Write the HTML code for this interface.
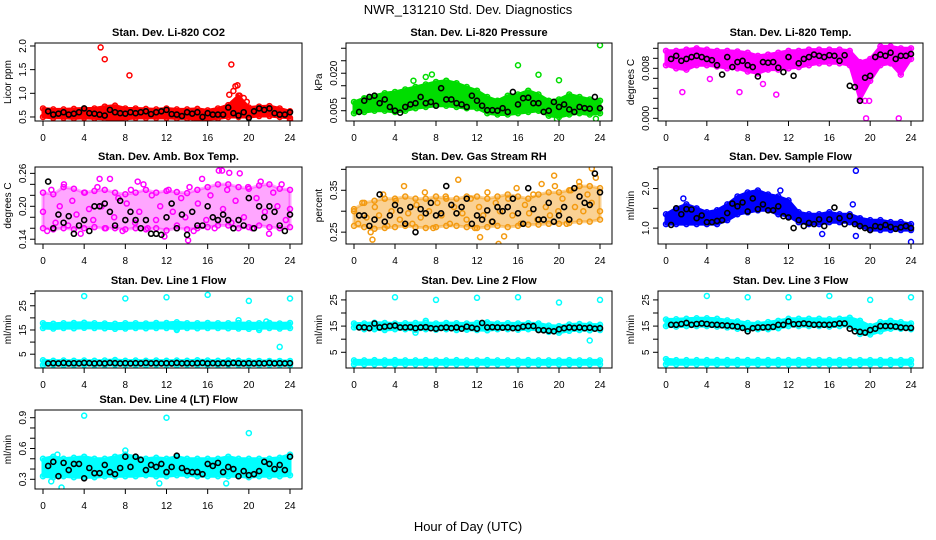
<!DOCTYPE html>
<html><head><meta charset="utf-8">
<style>
html,body{margin:0;padding:0;background:#fff;}
svg{display:block;font-family:"Liberation Sans",sans-serif;}
</style></head>
<body>
<svg id="chart" width="936" height="540" viewBox="0 0 936 540">
<text x="468" y="14" text-anchor="middle" font-size="13">NWR_131210  Std. Dev. Diagnostics</text>
<text x="468" y="531" text-anchor="middle" font-size="13">Hour of Day (UTC)</text>
</svg>
<script>
const hours=[0,1,2,3,4,5,6,7,8,9,10,11,12,13,14,15,16,17,18,19,20,21,22,23,24];
const xTicks=[0,4,8,12,16,20,24];
const meanX=[0.5,1,1.5,2,2.5,3,3.5,4,4.5,5,5.5,6,6.5,7,7.5,8,8.5,9,9.5,10,10.5,11,11.5,12,12.5,13,13.5,14,14.5,15,15.5,16,16.5,17,17.5,18,18.5,19,19.5,20,20.5,21,21.5,22,22.5,23,23.5,24];

// Panel 1 CO2
const co2Lo=[0.5,0.48,0.48,0.47,0.48,0.47,0.46,0.45,0.46,0.48,0.48,0.48,0.48,0.47,0.47,0.45,0.45,0.47,0.5,0.5,0.5,0.52,0.52,0.5,0.48];
const co2Hi=[0.68,0.66,0.66,0.67,0.68,0.68,0.72,0.74,0.68,0.68,0.67,0.66,0.68,0.66,0.66,0.67,0.64,0.68,0.75,0.95,0.7,0.72,0.73,0.68,0.62];
const co2OutX=[5.6,6.0,8.4,18.3,18.7,18.9,18.5,19.1,19.5,19.8,18.1,16.0,14.7,24];
const co2OutY=[1.97,1.72,1.38,1.61,1.15,1.17,1.05,0.95,0.9,0.82,0.97,0.37,0.4,0.44];
const co2Mean=[0.62,0.55,0.57,0.6,0.55,0.57,0.6,0.68,0.58,0.57,0.55,0.53,0.65,0.6,0.58,0.57,0.6,0.58,0.6,0.62,0.56,0.6,0.62,0.65,0.56,0.55,0.52,0.6,0.57,0.6,0.5,0.58,0.55,0.55,0.55,0.7,0.58,0.53,0.6,0.48,0.62,0.68,0.65,0.68,0.58,0.55,0.55,0.6];
// Panel 2 Pressure
const prLo=[0.004,0.0045,0.005,0.005,0.0045,0.005,0.006,0.0065,0.007,0.007,0.0065,0.006,0.006,0.004,0.0035,0.0035,0.004,0.0045,0.005,0.003,0.0025,0.0035,0.004,0.0035,0.004];
const prHi=[0.0085,0.01,0.011,0.012,0.0125,0.0135,0.0145,0.0155,0.0165,0.017,0.016,0.0145,0.013,0.0105,0.009,0.011,0.0115,0.013,0.0115,0.009,0.0095,0.0115,0.0105,0.0095,0.009];
const prOutX=[16,18,20,24,7.6,7,5.8,23.6,19.8,1];
const prOutY=[0.0232,0.0194,0.0172,0.0312,0.0195,0.0185,0.017,0.0018,0.0017,0.0095];
const prMean=[0.0045,0.009,0.0105,0.011,0.008,0.0095,0.0065,0.005,0.0042,0.0065,0.0075,0.008,0.0105,0.008,0.0085,0.007,0.014,0.0095,0.0095,0.008,0.0075,0.0065,0.011,0.009,0.007,0.0052,0.0052,0.005,0.006,0.0045,0.0125,0.0075,0.01,0.0102,0.008,0.008,0.0045,0.005,0.0085,0.0065,0.0075,0.0055,0.0045,0.0065,0.006,0.0058,0.0105,0.006];
// Panel 3 Li-820 Temp
const ltLo=[0.0085,0.008,0.0078,0.0085,0.0085,0.0083,0.008,0.008,0.0075,0.0072,0.0078,0.0078,0.008,0.0082,0.0085,0.0088,0.0088,0.0088,0.0085,0.003,0.006,0.0085,0.0088,0.007,0.0095];
const ltHi=[0.0108,0.0108,0.011,0.0112,0.011,0.0108,0.0108,0.0107,0.0105,0.01,0.0102,0.0105,0.0108,0.0108,0.011,0.011,0.011,0.011,0.0108,0.009,0.0095,0.0115,0.0115,0.0112,0.0112];
const ltOutX=[1.6,7.2,10.8,19.5,19.9,19.6,22.8,9.5,4.3];
const ltOutY=[0.0042,0.0042,0.0038,0.0028,0.0028,0,0,0.0055,0.0063];
const ltMean=[0.0095,0.01,0.0092,0.0095,0.0098,0.01,0.0098,0.0095,0.0093,0.0085,0.007,0.0098,0.0082,0.009,0.0092,0.0085,0.0082,0.0067,0.009,0.0089,0.009,0.0081,0.0074,0.0098,0.0068,0.0088,0.0095,0.0098,0.0102,0.01,0.0098,0.0101,0.01,0.0092,0.0101,0.0052,0.005,0.0028,0.0065,0.0068,0.0098,0.0102,0.01,0.0105,0.0095,0.01,0.01,0.0103];
// Panel 4 Amb box temp
const abLo=[0.16,0.158,0.16,0.158,0.16,0.162,0.16,0.16,0.158,0.16,0.158,0.16,0.156,0.16,0.158,0.16,0.162,0.165,0.165,0.16,0.162,0.165,0.162,0.16,0.162];
const abHi=[0.225,0.222,0.235,0.232,0.225,0.228,0.23,0.225,0.222,0.225,0.23,0.225,0.228,0.226,0.224,0.23,0.235,0.24,0.24,0.235,0.232,0.238,0.24,0.232,0.23];
const abPts=[0.19,0.155,0.23,0.17,0.2,0.24,0.165,0.21,0.185,0.15,0.225,0.195,0.175,0.235,0.2,0.16,0.25,0.18,0.215,0.155,0.205,0.23,0.17,0.19,0.24,0.16,0.22,0.175,0.2,0.145,0.23,0.19,0.165,0.215,0.18,0.235,0.155,0.205,0.25,0.175,0.22,0.16,0.265,0.195,0.23,0.17,0.21,0.26,0.18,0.235,0.16,0.215,0.245,0.19,0.15,0.225,0.2,0.24,0.175,0.195];
const abOutX=[14.1,17.4,18.1,5.5,9.2];
const abOutY=[0.138,0.265,0.261,0.25,0.245];
const abMean=[0.245,0.16,0.185,0.17,0.182,0.15,0.165,0.175,0.155,0.2,0.2,0.205,0.19,0.165,0.21,0.175,0.19,0.175,0.16,0.175,0.15,0.15,0.148,0.18,0.205,0.16,0.185,0.148,0.19,0.165,0.165,0.2,0.18,0.175,0.185,0.175,0.16,0.175,0.165,0.215,0.16,0.2,0.18,0.2,0.19,0.165,0.155,0.185];
// Panel 5 Gas stream RH
const rhLo=[0.265,0.262,0.258,0.26,0.262,0.265,0.262,0.26,0.262,0.265,0.265,0.262,0.26,0.262,0.265,0.262,0.265,0.268,0.268,0.27,0.27,0.272,0.275,0.275,0.28];
const rhHi=[0.305,0.32,0.325,0.33,0.33,0.335,0.33,0.33,0.335,0.33,0.33,0.335,0.335,0.33,0.335,0.34,0.335,0.33,0.34,0.345,0.345,0.35,0.36,0.36,0.355];
const rhPts=[0.3,0.27,0.32,0.285,0.25,0.31,0.29,0.34,0.265,0.3,0.325,0.28,0.36,0.295,0.27,0.315,0.285,0.345,0.3,0.26,0.32,0.29,0.335,0.27,0.31,0.375,0.295,0.28,0.33,0.26,0.31,0.29,0.345,0.275,0.32,0.3,0.24,0.33,0.29,0.355,0.27,0.315,0.295,0.34,0.28,0.365,0.31,0.29,0.385,0.3,0.33,0.27,0.35,0.31,0.37,0.3,0.34,0.32,0.38,0.3];
const rhOutX=[1.8,14.1,12.3,23.2,19.6];
const rhOutY=[0.232,0.222,0.238,0.402,0.36];
const rhMean=[0.29,0.29,0.265,0.28,0.34,0.275,0.29,0.315,0.302,0.27,0.31,0.25,0.305,0.295,0.32,0.29,0.295,0.36,0.315,0.295,0.31,0.33,0.27,0.29,0.28,0.302,0.275,0.31,0.3,0.31,0.33,0.295,0.27,0.355,0.305,0.28,0.28,0.32,0.275,0.29,0.31,0.28,0.355,0.335,0.32,0.315,0.39,0.345];
// Panel 6 Sample flow
const sfLo=[1.1,1.1,1.1,1.1,1.1,1.1,1.2,1.35,1.4,1.45,1.45,1.35,1.3,1.15,1.1,1.1,1.15,1.15,1.15,1.05,0.95,0.95,0.95,0.95,0.95];
const sfHi=[1.35,1.5,1.6,1.5,1.4,1.45,1.6,1.8,1.9,1.95,1.85,1.8,1.7,1.4,1.35,1.35,1.4,1.35,1.35,1.25,1.2,1.2,1.15,1.15,1.1];
const sfOutX=[18.6,18.6,24,15.3,18.3,1.7,11.2];
const sfOutY=[2.45,0.8,0.65,0.85,1.6,1.75,1.95];
const sfMean=[1.08,1.5,1.35,1.48,1.47,1.25,1.32,1.15,1.15,1.18,1.2,1.38,1.62,1.55,1.65,1.42,1.75,1.48,1.6,1.45,1.45,1.55,1.3,1.27,1.0,1.2,1.05,1.13,1.1,1.22,1.05,1.22,1.52,1.25,1.1,1.3,1.1,1.05,1.0,0.95,1.05,1.03,1.08,1.03,0.98,1.02,1.05,1.0];
// Panel 7 Line 1
const l1Lo=[15.8,15.6,15.8,15.7,15.9,15.8,15.7,15.5,15.6,15.8,15.7,15.8,15.8,15.6,15.8,15.7,15.8,15.8,15.7,15.6,15.5,15.7,15.8,15.6,15.8];
const l1Hi=[17.8,17.6,17.8,17.9,18.0,17.8,17.7,17.6,17.8,17.8,17.7,17.9,17.9,18.2,17.8,17.8,17.9,17.8,17.8,17.9,17.8,17.8,17.9,17.7,17.9];
const l1Lo2=[0.5,0.6,0.5,0.5,0.6,0.5,0.5,0.6,0.5,0.5,0.5,0.6,0.5,0.5,0.6,0.5,0.5,0.5,0.6,0.5,0.5,0.5,0.6,0.5,0.5];
const l1Hi2=[2.5,2.3,2.4,2.3,2.4,2.3,2.4,2.6,2.3,2.4,2.3,2.4,2.3,2.4,2.3,2.5,2.4,2.3,2.4,2.3,2.2,2.2,2.2,2.2,2.2];
const l1OutX=[4,8,12,16,20,24,19,21,13,23,21.7];
const l1OutY=[29,28,28.5,29.5,27,28,19,15,15,8,18.5];
const l1Mean=[1.2,1.3,1.2,1.4,1.2,1.3,1.2,1.4,1.3,1.2,1.3,1.2,1.4,1.3,1.2,1.3,1.2,1.3,1.2,1.4,1.2,1.3,1.2,1.3,1.2,1.4,1.2,1.3,1.2,1.3,1.4,1.2,1.3,1.2,1.3,1.2,1.4,1.3,1.2,1.3,1.2,1.3,1.2,1.4,1.2,1.3,1.2,1.3];
// Panel 8 Line 2
const l2Lo=[14.5,13.8,13.8,13.5,13.8,13.8,13.5,13.8,13.6,13.8,13.5,13.6,13.5,13.4,13.8,13.8,13.6,13.8,13.6,12.8,12.5,13.2,13.5,13.4,13.5];
const l2Hi=[16.0,16.0,16.3,16.2,16.0,16.1,16.2,16.3,16.0,16.2,16.1,16.0,16.2,16.4,16.0,16.1,16.0,16.1,16.0,15.2,15.0,15.6,15.8,15.6,15.5];
const l2Lo2=[0.4,0.4,0.4,0.4,0.4,0.4,0.4,0.4,0.4,0.4,0.4,0.4,0.4,0.4,0.4,0.4,0.4,0.4,0.4,0.4,0.4,0.4,0.4,0.4,0.4];
const l2Hi2=[1.9,1.9,2.0,1.9,2.0,1.9,1.9,2.0,1.9,1.9,2.0,1.9,1.9,2.0,1.9,1.9,1.9,2.0,1.9,1.9,1.9,2.0,1.9,1.9,1.9];
const l2OutX=[4,8,12,16,20,24,23,6,7];
const l2OutY=[26,25,25.8,26,24,25,9.5,12.5,17];
const l2Mean=[14.5,14.5,14.2,16,14.5,14.8,15,15.2,14.5,14.5,14.6,14.2,14.5,14.6,14.2,14,14.3,14.5,14.2,14.5,14,14.8,14.4,14,16.2,14.5,14.6,14.5,14.4,14.5,14.2,14.3,14.8,15,15,13.5,13.4,13.2,13,13.8,14.2,14.5,14.3,14.5,14.2,14.4,14,14.2];
// Panel 9 Line 3
const l3Lo=[15.0,14.8,15.0,15.0,15.0,14.8,14.5,14.0,13.8,13.8,13.8,14.2,15.0,15.0,15.0,15.0,14.8,15.0,15.2,12.0,11.8,13.0,14.0,14.0,13.8];
const l3Hi=[17.5,17.6,17.8,18.0,18.0,17.8,17.2,16.8,16.2,16.0,16.5,17.0,17.8,17.8,17.8,17.8,17.6,17.8,18.2,17.0,15.0,16.5,17.0,16.5,16.0];
const l3Lo2=[0.4,0.4,0.4,0.4,0.4,0.4,0.4,0.4,0.4,0.4,0.4,0.4,0.4,0.4,0.4,0.4,0.4,0.4,0.4,0.4,0.4,0.4,0.4,0.4,0.4];
const l3Hi2=[2.4,2.0,2.0,2.0,2.0,2.0,2.0,2.0,2.0,2.0,2.0,2.0,2.0,2.0,2.0,2.0,2.0,2.0,2.0,2.0,2.0,2.0,2.0,2.0,2.0];
const l3OutX=[4,8,12,16,20,24,19];
const l3OutY=[26.5,26,26,26.5,25,26,17];
const l3Mean=[15.5,15.5,15.8,16.2,15.5,15.8,16,15.8,15.5,15.5,15.3,15.2,15,14.8,14.3,13,14.2,14.5,14.5,14.6,14.7,15.5,15.5,16.8,15.7,15.8,16,15.8,15.5,15.6,15.5,15.5,15.7,16,16,14,13,12.8,12.5,13.5,14,15,15,15,14.8,14.5,14.3,14.3];
// Panel 10 Line 4
const l4Lo=[0.33,0.32,0.33,0.32,0.32,0.32,0.33,0.33,0.33,0.33,0.34,0.33,0.33,0.34,0.34,0.33,0.33,0.33,0.33,0.33,0.32,0.33,0.33,0.33,0.34];
const l4Hi=[0.5,0.52,0.5,0.51,0.52,0.5,0.5,0.52,0.54,0.52,0.5,0.51,0.5,0.52,0.5,0.5,0.5,0.5,0.52,0.5,0.5,0.5,0.5,0.51,0.54];
const l4OutX=[4,12,20,1.8,11.3,17.8,0.8,8,1.4];
const l4OutY=[0.92,0.9,0.75,0.22,0.26,0.26,0.28,0.58,0.54];
const l4Mean=[0.43,0.47,0.33,0.46,0.39,0.45,0.45,0.31,0.41,0.36,0.36,0.44,0.37,0.35,0.41,0.52,0.42,0.52,0.49,0.39,0.44,0.42,0.45,0.37,0.42,0.53,0.41,0.38,0.37,0.37,0.35,0.45,0.43,0.46,0.37,0.42,0.4,0.33,0.38,0.34,0.35,0.38,0.47,0.45,0.4,0.44,0.39,0.52];

const panels=[
 {title:"Stan. Dev. Li-820 CO2",ylab:"Licor ppm",col:0,row:0,dom:[0.415,2.063],ticks:[0.5,1.0,1.5,2.0],labels:["0.5","1.0","1.5","2.0"],color:"#ff0000",bands:[[co2Lo,co2Hi]],ox:co2OutX,oy:co2OutY,mean:co2Mean},
 {title:"Stan. Dev. Li-820 Pressure",ylab:"kPa",col:1,row:0,dom:[0.00088,0.0321],ticks:[0.005,0.010,0.015,0.020,0.025,0.030],labels:["0.005","","","0.020","",""],color:"#00dd00",bands:[[prLo,prHi]],ox:prOutX,oy:prOutY,mean:prMean},
 {title:"Stan. Dev. Li-820 Temp.",ylab:"degrees C",col:2,row:0,dom:[-0.00043,0.01205],ticks:[0,0.0016,0.0032,0.0048,0.0064,0.008,0.0096,0.0112],labels:["0.000","","","","","0.008","",""],color:"#ff00ff",bands:[[ltLo,ltHi]],ox:ltOutX,oy:ltOutY,mean:ltMean},
 {title:"Stan. Dev. Amb. Box Temp.",ylab:"degrees C",col:0,row:1,dom:[0.1313,0.2716],ticks:[0.14,0.16,0.18,0.20,0.22,0.24,0.26],labels:["0.14","","","0.20","","","0.26"],color:"#ff00ff",bands:[[abLo,abHi]],op:0.35,pts:abPts,ox:abOutX,oy:abOutY,mean:abMean},
 {title:"Stan. Dev. Gas Stream RH",ylab:"percent",col:1,row:1,dom:[0.2217,0.4056],ticks:[0.25,0.30,0.35,0.40],labels:["0.25","","0.35",""],color:"#f39a10",bands:[[rhLo,rhHi]],op:0.45,pts:rhPts,ox:rhOutX,oy:rhOutY,mean:rhMean},
 {title:"Stan. Dev. Sample Flow",ylab:"ml/min",col:2,row:1,dom:[0.597,2.546],ticks:[1.0,1.5,2.0,2.5],labels:["1.0","","2.0",""],color:"#0000ff",bands:[[sfLo,sfHi]],ox:sfOutX,oy:sfOutY,mean:sfMean},
 {title:"Stan. Dev. Line 1 Flow",ylab:"ml/min",col:0,row:2,dom:[-0.7,31.1],ticks:[5,10,15,20,25,30],labels:["5","","15","","25",""],color:"#00ffff",bands:[[l1Lo,l1Hi],[l1Lo2,l1Hi2]],ox:l1OutX,oy:l1OutY,mean:l1Mean},
 {title:"Stan. Dev. Line 2 Flow",ylab:"ml/min",col:1,row:2,dom:[-1.0,28.4],ticks:[5,10,15,20,25],labels:["5","","15","","25"],color:"#00ffff",bands:[[l2Lo,l2Hi],[l2Lo2,l2Hi2]],ox:l2OutX,oy:l2OutY,mean:l2Mean},
 {title:"Stan. Dev. Line 3 Flow",ylab:"ml/min",col:2,row:2,dom:[-1.0,28.4],ticks:[5,10,15,20,25],labels:["5","","15","","25"],color:"#00ffff",bands:[[l3Lo,l3Hi],[l3Lo2,l3Hi2]],ox:l3OutX,oy:l3OutY,mean:l3Mean},
 {title:"Stan. Dev. Line 4 (LT) Flow",ylab:"ml/min",col:0,row:3,dom:[0.2055,0.975],ticks:[0.3,0.4,0.5,0.6,0.7,0.8,0.9],labels:["0.3","","","0.6","","","0.9"],color:"#00ffff",bands:[[l4Lo,l4Hi]],ox:l4OutX,oy:l4OutY,mean:l4Mean}
];
const colX=[35,346,658], colW=[267,266,265];
const rowY=[43,167,291,410], rowH=[78,77,77,79];
const NS="http://www.w3.org/2000/svg";
const svg=document.getElementById('chart');
function mk(tag,attrs,parent){const e=document.createElementNS(NS,tag);for(const k in attrs)e.setAttribute(k,attrs[k]);(parent||svg).appendChild(e);return e;}
panels.forEach((p,pi)=>{
 const L=colX[p.col],W=colW[p.col],T=rowY[p.row],H=rowH[p.row];
 const xs=h=>L+8+(W-20)*h/24;
 const ys=v=>T+H*(p.dom[1]-v)/(p.dom[1]-p.dom[0]);
 const g=mk('g',{});
 
 
 const clip=mk('clipPath',{id:'c'+pi},g);mk('rect',{x:L,y:T,width:W,height:H},clip);
 const plot=mk('g',{'clip-path':'url(#c'+pi+')'},g);
 
 
 p.bands.forEach(b=>{
  let d='';hours.forEach((h,i)=>{d+=(i?'L':'M')+xs(h).toFixed(1)+','+ys(b[1][i]).toFixed(1);});
  for(let i=hours.length-1;i>=0;i--)d+='L'+xs(hours[i]).toFixed(1)+','+ys(b[0][i]).toFixed(1);
  const band=mk('path',{d:d+'Z',fill:p.color,'fill-opacity':p.op||1,stroke:p.color,'stroke-width':3,'stroke-opacity':p.op||1,'stroke-linejoin':'round'},plot);
  
  
  hours.forEach((h,i)=>{[b[0][i],b[1][i]].forEach(v=>{const c=mk('circle',{cx:xs(h),cy:ys(v),r:2.5,fill:'none',stroke:p.color,'stroke-width':1.5},plot);});});
 });
 if(p.pts){p.pts.forEach((v,i)=>{const c=mk('circle',{cx:xs(i*24/(p.pts.length-1)),cy:ys(v),r:2.5,fill:'none',stroke:p.color,'stroke-width':1.5},plot);});}
 p.ox.forEach((x,i)=>{const c=mk('circle',{cx:xs(x),cy:ys(p.oy[i]),r:2.5,fill:'none',stroke:p.color,'stroke-width':1.5},plot);});
 p.mean.forEach((v,i)=>{const c=mk('circle',{cx:xs(meanX[i]),cy:ys(v),r:2.5,fill:'none',stroke:'#000','stroke-width':1.6},plot);});
 const box=mk('rect',{x:L,y:T,width:W,height:H,fill:'none',stroke:'#000','stroke-width':1},g);
 
 
 const t=mk('text',{x:L+W/2,y:T-7,'text-anchor':'middle','font-size':11,'font-weight':'bold'},g);t.textContent=p.title;
 
 
 const xa=mk('g',{},g);
 
 
 mk('line',{x1:xs(0),x2:xs(24),y1:T+H,y2:T+H,stroke:'#000'},xa);
 xTicks.forEach(h=>{mk('line',{x1:xs(h),x2:xs(h),y1:T+H,y2:T+H+5,stroke:'#000'},xa);const tx=mk('text',{x:xs(h),y:T+H+20,'text-anchor':'middle','font-size':10},xa);tx.textContent=h;});
 const ya=mk('g',{},g);
 
 
 const vis=p.ticks.filter(v=>ys(v)>=T-0.5&&ys(v)<=T+H+0.5);
 mk('line',{x1:L,x2:L,y1:ys(vis[0]),y2:ys(vis[vis.length-1]),stroke:'#000'},ya);
 p.ticks.forEach((v,i)=>{const y=ys(v);if(y<T-0.5||y>T+H+0.5)return;mk('line',{x1:L-5,x2:L,y1:y,y2:y,stroke:'#000'},ya);
  if(p.labels[i]){const tx=mk('text',{x:L-9,y:y,'text-anchor':'middle','font-size':10,transform:'rotate(-90 '+(L-9)+' '+y+')'},ya);tx.textContent=p.labels[i];}});
 const yl=mk('text',{x:L-24,y:T+H/2,'text-anchor':'middle','font-size':10,transform:'rotate(-90 '+(L-24)+' '+(T+H/2)+')'},g);yl.textContent=p.ylab;
 
 
});
</script>
</body></html>
